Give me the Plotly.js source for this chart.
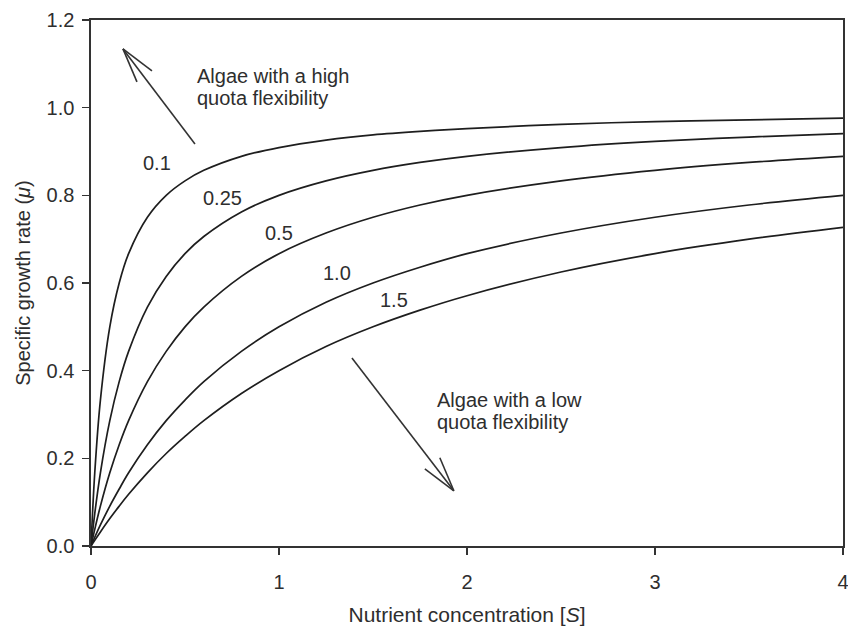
<!DOCTYPE html>
<html>
<head>
<meta charset="utf-8">
<script src="https://cdn.plot.ly/plotly-3.0.1.min.js"></script>
<style>html,body{margin:0;padding:0;background:#fff;}#chart{width:848px;height:632px;}</style>
</head>
<body>
<div id="chart"></div>
<script>
// Nutrient concentration S (x values)
const S = [0, 0.02, 0.05, 0.1, 0.15, 0.2, 0.3, 0.4, 0.5, 0.6, 0.8, 1.0, 1.25, 1.5, 1.75, 2, 2.5, 3, 3.5, 4];
// Curve labels
const curveLabels = ["0.1", "0.25", "0.5", "1.0", "1.5"];
// Specific growth rate for each curve
const mu_01  = [0, 0.167, 0.333, 0.5, 0.6, 0.667, 0.75, 0.8, 0.833, 0.857, 0.889, 0.909, 0.926, 0.938, 0.946, 0.952, 0.962, 0.968, 0.972, 0.976];
const mu_025 = [0, 0.074, 0.167, 0.286, 0.375, 0.444, 0.545, 0.615, 0.667, 0.706, 0.762, 0.8, 0.833, 0.857, 0.875, 0.889, 0.909, 0.923, 0.933, 0.941];
const mu_05  = [0, 0.038, 0.091, 0.167, 0.231, 0.286, 0.375, 0.444, 0.5, 0.545, 0.615, 0.667, 0.714, 0.75, 0.778, 0.8, 0.833, 0.857, 0.875, 0.889];
const mu_10  = [0, 0.020, 0.048, 0.091, 0.130, 0.167, 0.231, 0.286, 0.333, 0.375, 0.444, 0.5, 0.556, 0.6, 0.636, 0.667, 0.714, 0.75, 0.778, 0.8];
const mu_15  = [0, 0.013, 0.032, 0.0625, 0.091, 0.118, 0.167, 0.211, 0.25, 0.286, 0.348, 0.4, 0.455, 0.5, 0.538, 0.571, 0.625, 0.667, 0.7, 0.727];
const series = [mu_01, mu_025, mu_05, mu_10, mu_15];
// Label positions (data coordinates)
const labelX = [0.35, 0.70, 1.0, 1.31, 1.61];
const labelY = [0.874, 0.794, 0.714, 0.623, 0.561];
const xTicks = [0, 1, 2, 3, 4];
const yTicks = [0, 0.2, 0.4, 0.6, 0.8, 1.0, 1.2];
// Annotation text lines
const highText = ["Algae with a high", "quota flexibility"];
const lowText = ["Algae with a low", "quota flexibility"];

const font = "Liberation Sans, Arial, sans-serif";
const txtCol = "#2e2e2e";
const traces = series.map((ys, i) => ({
  x: S, y: ys, type: "scatter", mode: "lines", name: curveLabels[i],
  line: {color: "#1e1e1e", width: 1.7, shape: "spline", smoothing: 1.0},
  showlegend: false, hoverinfo: "skip"
}));

const annotations = curveLabels.map((t, i) => ({
  x: labelX[i], y: labelY[i], xref: "x", yref: "y", text: t, showarrow: false,
  font: {family: font, size: 20, color: txtCol}
}));
const highY = [1.072, 1.022];
highText.forEach((t, i) => annotations.push({
  x: 0.553, y: highY[i], xref: "x", yref: "y", xanchor: "left", text: t, showarrow: false,
  font: {family: font, size: 20, color: txtCol}
}));
const lowY = [0.333, 0.284];
lowText.forEach((t, i) => annotations.push({
  x: 1.83, y: lowY[i], xref: "x", yref: "y", xanchor: "left", text: t, showarrow: false,
  font: {family: font, size: 20, color: txtCol}
}));

const arrowLine = {color: "#333", width: 1.6};
function arrow(tipX, tipY, tailX, tailY, barbs) {
  const out = [{type: "line", xref: "x", yref: "y", x0: tailX, y0: tailY, x1: tipX, y1: tipY, line: arrowLine}];
  barbs.forEach(b => out.push({
    type: "line", xref: "x", yref: "y", xsizemode: "pixel", ysizemode: "pixel",
    xanchor: tipX, yanchor: tipY, x0: 0, y0: 0, x1: b[0], y1: b[1], line: arrowLine
  }));
  return out;
}
const shapes = [
  ...arrow(0.170, 1.134, 0.553, 0.917, [[29, -22], [14, -33]]),
  ...arrow(1.930, 0.126, 1.388, 0.429, [[-29, 22], [-14, 33]])
];

const layout = {
  width: 848, height: 632,
  margin: {l: 91, r: 5, t: 20, b: 86},
  paper_bgcolor: "#fff", plot_bgcolor: "#fff",
  font: {family: font, color: txtCol},
  xaxis: {
    range: [0, 4], tickvals: xTicks, ticktext: xTicks.map(String),
    showgrid: false, zeroline: false, showline: true, mirror: true,
    linecolor: "#333", linewidth: 1.6, ticks: "outside", ticklen: 7, tickwidth: 1.3, tickcolor: "#333",
    ticklabelstandoff: 10, ticklabeloverflow: "allow",
    tickfont: {family: font, size: 20, color: txtCol},
    title: {text: "Nutrient concentration [<i>S</i>]", font: {family: font, size: 21, color: txtCol}, standoff: 16}
  },
  yaxis: {
    range: [0, 1.2], tickvals: yTicks, ticktext: yTicks.map(v => v.toFixed(1)),
    showgrid: false, zeroline: false, showline: true, mirror: true,
    linecolor: "#333", linewidth: 1.6, ticks: "outside", ticklen: 7, tickwidth: 1.3, tickcolor: "#333",
    ticklabelstandoff: 4, ticklabeloverflow: "allow",
    tickfont: {family: font, size: 20, color: txtCol},
    title: {text: "Specific growth rate (<i>μ</i>)", font: {family: font, size: 20, color: txtCol}, standoff: 10}
  },
  annotations: annotations,
  shapes: shapes,
  showlegend: false
};

Plotly.newPlot("chart", traces, layout, {displayModeBar: false, staticPlot: true});
</script>
</body>
</html>
